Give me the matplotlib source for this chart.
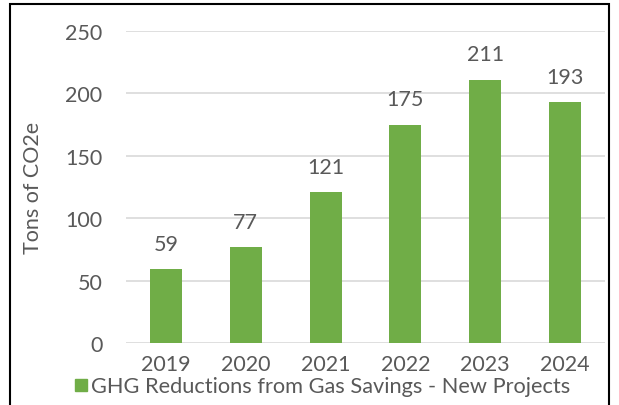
import matplotlib.pyplot as plt
from matplotlib.patches import Rectangle

# data
years = ['2019', '2020', '2021', '2022', '2023', '2024']
reductions = [59, 77, 121, 175, 211, 193]
series_name = 'GHG Reductions from Gas Savings - New Projects'

green = '#70AD47'
grey = '#595959'

plt.rcParams['font.family'] = ['Lato', 'DejaVu Sans']

fig = plt.figure(figsize=(6.19, 4.06), dpi=100)
W, H = 619, 406
ax = fig.add_axes([126 / W, 1 - 344 / H, (605 - 126) / W, (344 - 32) / H])

x = range(len(years))
ax.bar(x, reductions, width=0.4, color=green, zorder=3)
for xi, v in zip(x, reductions):
    ax.annotate(str(v), (xi, v), xytext=(0, 11), textcoords='offset points',
                ha='center', va='bottom', fontsize=15.5, color=grey)

ax.set_xlim(-0.5, len(years) - 0.5)
ax.set_ylim(0, 250)
ax.set_yticks(range(0, 251, 50))
ax.set_xticks(list(x))
ax.set_xticklabels(years)
ax.tick_params(axis='both', length=0, labelsize=15.5, labelcolor=grey)
ax.tick_params(axis='y', pad=17)
ax.tick_params(axis='x', pad=8)
ax.grid(axis='y', color='#d9d9d9', linewidth=1.2, zorder=0)
for s in ax.spines.values():
    s.set_visible(False)
ax.set_ylabel('Tons of CO2e', fontsize=15.5, color=grey, labelpad=16)

# legend
fig.patches.append(Rectangle((75 / W, 1 - 392 / H), 12 / W, 12 / H,
                             transform=fig.transFigure, color=green))
fig.text(91 / W, 1 - 387 / H, series_name, fontsize=15.7, color=grey,
         va='center', ha='left')

# chart border
fig.patches.append(Rectangle((10 / W, -0.05), 599 / W, 1.05 - 5 / H,
                             transform=fig.transFigure, fill=False,
                             edgecolor='black', linewidth=1.5))

fig.savefig('out.png', dpi=100)
